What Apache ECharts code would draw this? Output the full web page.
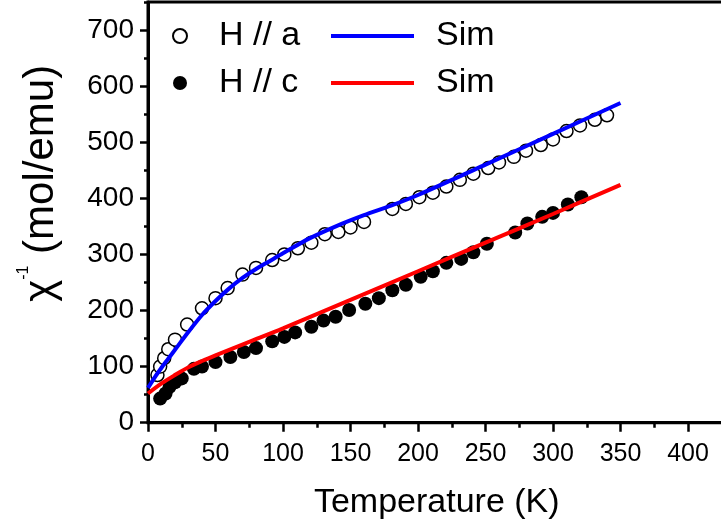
<!DOCTYPE html>
<html>
<head>
<meta charset="utf-8">
<script src="https://cdn.jsdelivr.net/npm/echarts@6/dist/echarts.min.js"></script>
<style>html,body{margin:0;padding:0;background:#fff}#c{width:721px;height:525px}</style>
</head>
<body>
<div id="c"></div>
<script>
// H // a (open circles)
var aT = [7, 9, 12, 15, 20, 29, 40, 50, 59, 70, 80, 92, 101, 111, 121, 131, 141, 150, 160, 181, 191, 201, 211, 221, 231, 241, 252, 260, 271, 280, 291, 300, 310, 320, 331, 340];
var aV = [85, 100, 115, 131, 148, 175, 204, 222, 240, 264, 276, 290, 300, 311, 321, 336, 340, 348, 358, 381, 390, 402, 410, 421, 433, 444, 454, 464, 474, 485, 495, 505, 520, 530, 540, 548];
// H // c (filled circles)
var cT = [9, 13, 16, 20, 25, 34, 40, 50, 61, 71, 80, 92, 101, 109, 121, 130, 139, 149, 161, 171, 181, 191, 202, 211, 221, 232, 241, 251, 272, 281, 292, 300, 311, 321];
var cV = [43, 52, 64, 72, 79, 96, 100, 108, 117, 126, 133, 145, 153, 161, 171, 182, 189, 201, 212, 222, 236, 246, 260, 270, 285, 292, 304, 319, 339, 355, 367, 374, 389, 402];
// Simulations
var simAT = [0, 5, 10, 15, 20, 30, 40, 50, 60, 70, 80, 90, 100, 120, 140, 160, 180, 200, 250, 300, 350];
var simAV = [62, 81, 98, 114, 130, 162, 192, 217, 239, 258, 274, 288, 302, 329, 351, 370, 387, 406, 460, 515, 570];
var simCT = [0, 10, 20, 30, 40, 50, 75, 100, 150, 200, 250, 300, 350];
var simCV = [52, 70, 85, 99, 110, 120, 144, 168, 219, 270, 321, 372, 424];
// Tick values
var yMajor = [0, 100, 200, 300, 400, 500, 600, 700];
var yMinor = [50, 150, 250, 350, 450, 550, 650, 750];

function pairs(xs, ys) { return xs.map(function (x, i) { return [x, ys[i]]; }); }

var FONT = 'Liberation Sans, Arial, sans-serif';
var chart = echarts.init(document.getElementById('c'), null, { renderer: 'canvas' });
chart.setOption({
  animation: false,
  backgroundColor: '#fff',
  grid: { left: 148, top: 2, right: -34.5, bottom: 102.3, show: true, borderColor: '#000', borderWidth: 3, containLabel: false, outerBoundsMode: 'none' },
  legend: [
    {
      data: ['H // a', 'H // c'], orient: 'vertical', left: 167, top: 14,
      itemWidth: 68, itemHeight: 14, itemGap: 13, selectedMode: false,
      textStyle: { fontSize: 34, color: '#000', fontFamily: FONT }
    },
    {
      data: [{ name: 'Sim a', icon: 'rect' }, { name: 'Sim c', icon: 'rect' }], orient: 'vertical', left: 326, top: 14,
      itemWidth: 83, itemHeight: 4, itemGap: 13, selectedMode: false,
      formatter: function () { return 'Sim'; },
      textStyle: { fontSize: 34, color: '#000', fontFamily: FONT, padding: [0, 0, 0, 17] }
    }
  ],
  xAxis: {
    type: 'value', min: 0, max: 450, interval: 50,
    name: 'Temperature (K)', nameLocation: 'middle', nameGap: 63,
    nameTextStyle: { fontSize: 34, color: '#000', fontFamily: FONT, padding: [0, 30, 0, 0] },
    axisLine: { lineStyle: { color: '#000', width: 3 } },
    axisTick: { show: true, inside: false, length: 9, lineStyle: { color: '#000', width: 2.5 } },
    minorTick: { show: true, splitNumber: 2, length: 5, lineStyle: { color: '#000', width: 2.5 } },
    axisLabel: { fontSize: 25, color: '#000', fontFamily: FONT, margin: 19 },
    splitLine: { show: false }, minorSplitLine: { show: false }
  },
  yAxis: [
    {
      type: 'value', min: 0, max: 750, interval: 100,
      name: '{c|χ}{s|-1}{t| (mol/emu)}', nameLocation: 'middle', nameGap: 82, nameRotate: 90,
      nameTextStyle: {
        color: '#000', fontFamily: FONT, padding: [0, 0, 0, 58],
        rich: {
          c: { fontSize: 42, color: '#000', fontFamily: FONT, lineHeight: 50 },
          s: { fontSize: 16, color: '#000', fontFamily: FONT, verticalAlign: 'top' },
          t: { fontSize: 42, color: '#000', fontFamily: FONT, lineHeight: 50 }
        }
      },
      axisLine: { lineStyle: { color: '#000', width: 3 } },
      axisTick: { show: true, length: 8, customValues: yMajor, lineStyle: { color: '#000', width: 2.5 } },
      axisLabel: { fontSize: 28, color: '#000', fontFamily: FONT, margin: 14, customValues: yMajor },
      splitLine: { show: false }
    },
    {
      type: 'value', min: 0, max: 750, interval: 100, position: 'left',
      axisLine: { show: false },
      axisTick: { show: true, length: 4, customValues: yMinor, lineStyle: { color: '#000', width: 2.5 } },
      axisLabel: { show: false },
      splitLine: { show: false }
    }
  ],
  series: [
    {
      name: 'H // a', type: 'scatter', data: pairs(aT, aV), symbol: 'circle', symbolSize: 13, z: 2,
      itemStyle: { color: '#fff', borderColor: '#000', borderWidth: 1.5, opacity: 1 }
    },
    {
      name: 'H // c', type: 'scatter', data: pairs(cT, cV), symbol: 'circle', symbolSize: 14, z: 2,
      itemStyle: { color: '#000', borderColor: '#000', borderWidth: 0, opacity: 1 }
    },
    {
      name: 'Sim a', type: 'line', data: pairs(simAT, simAV), smooth: 0.3, symbol: 'none', z: 5,
      lineStyle: { color: '#0000ff', width: 4 }, itemStyle: { color: '#0000ff' }
    },
    {
      name: 'Sim c', type: 'line', data: pairs(simCT, simCV), smooth: 0.3, symbol: 'none', z: 5,
      lineStyle: { color: '#ff0000', width: 4 }, itemStyle: { color: '#ff0000' }
    }
  ]
});
</script>
</body>
</html>
